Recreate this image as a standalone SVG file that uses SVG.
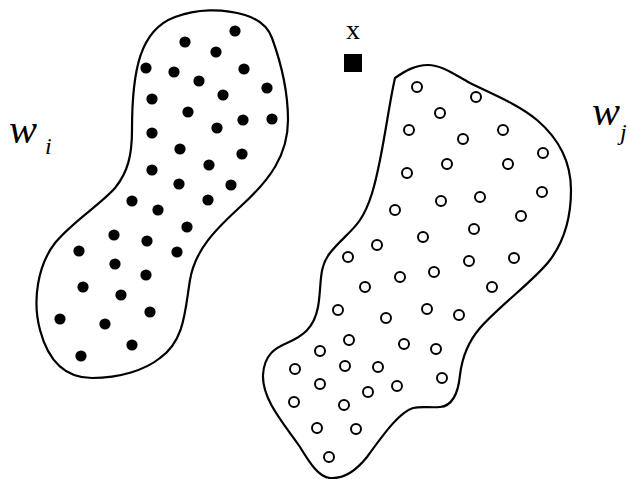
<svg xmlns="http://www.w3.org/2000/svg" width="630" height="479" viewBox="0 0 630 479">
<style>
.blob{fill:none;stroke:#000;stroke-width:2.2;stroke-linejoin:round}
.f{fill:#000}
.o{fill:none;stroke:#000;stroke-width:2}
.lbl{font-family:"Liberation Serif","Times New Roman",serif;fill:#000}
</style>
<rect width="630" height="479" fill="#fff"/>
<g id="class-wi">
<path class="blob" d="M132,130 C132,70 140,30 175,17 C196,9 222,8 245,15 C258,19 268,27 272,38 C280,60 288,90 288,120 C288,155 270,180 240,207 C215,230 195,250 190,280 C185,310 185,340 160,358 C145,370 120,378 92,378 C65,378 48,360 40,330 C32,300 38,265 55,243 C72,222 100,205 115,188 C128,172 132,155 132,130 Z"/>
<g class="f">
<circle cx="235" cy="31" r="5.6"/><circle cx="185" cy="42" r="5.6"/><circle cx="216" cy="52" r="5.6"/>
<circle cx="146" cy="68" r="5.6"/><circle cx="174" cy="72" r="5.6"/><circle cx="199" cy="81" r="5.6"/>
<circle cx="244" cy="69" r="5.6"/><circle cx="267" cy="88" r="5.6"/><circle cx="152" cy="99" r="5.6"/>
<circle cx="223" cy="95" r="5.6"/><circle cx="188" cy="112" r="5.6"/><circle cx="243" cy="120" r="5.6"/>
<circle cx="272" cy="119" r="5.6"/><circle cx="217" cy="128" r="5.6"/><circle cx="152" cy="133" r="5.6"/>
<circle cx="180" cy="149" r="5.6"/><circle cx="242" cy="154" r="5.6"/><circle cx="209" cy="165" r="5.6"/>
<circle cx="152" cy="170" r="5.6"/><circle cx="179" cy="184" r="5.6"/><circle cx="231" cy="185" r="5.6"/>
<circle cx="132" cy="201" r="5.6"/><circle cx="158" cy="210" r="5.6"/><circle cx="208" cy="200" r="5.6"/>
<circle cx="187" cy="227" r="5.6"/><circle cx="114" cy="235" r="5.6"/><circle cx="147" cy="241" r="5.6"/>
<circle cx="79" cy="251" r="5.6"/><circle cx="177" cy="252" r="5.6"/><circle cx="115" cy="264" r="5.6"/>
<circle cx="146" cy="275" r="5.6"/><circle cx="83" cy="287" r="5.6"/><circle cx="121" cy="295" r="5.6"/>
<circle cx="150" cy="312" r="5.6"/><circle cx="60" cy="319" r="5.6"/><circle cx="105" cy="324" r="5.6"/>
<circle cx="132" cy="345" r="5.6"/><circle cx="81" cy="356" r="5.6"/>
</g>
<text class="lbl" x="9" y="143" font-size="42" font-style="italic">w</text>
<text class="lbl" x="45" y="154" font-size="24" font-style="italic">i</text>
</g>
<g id="class-wj">
<path class="blob" d="M395,78 C405,71 415,65 428,65 C442,65 455,75 470,83 C492,94 518,104 537,120 C558,138 571,160 571,190 C571,215 565,240 550,260 C535,280 500,305 480,328 C468,342 462,358 460,375 C458,395 452,406 440,407 C430,408 422,406 413,408 C400,412 385,432 367,457 C355,472 342,479 330,478 C318,477 308,460 300,447 C285,425 262,400 263,375 C264,355 275,348 287,343 C303,336 314,328 318,307 C322,285 318,268 330,253 C340,240 352,232 360,220 C370,205 375,185 380,160 C386,130 390,100 395,78 Z"/>
<g class="o">
<circle cx="417" cy="87" r="5"/><circle cx="476" cy="97" r="5"/><circle cx="440" cy="113" r="5"/>
<circle cx="409" cy="130" r="5"/><circle cx="503" cy="130" r="5"/><circle cx="463" cy="139" r="5"/>
<circle cx="543" cy="153" r="5"/><circle cx="447" cy="164" r="5"/><circle cx="508" cy="164" r="5"/>
<circle cx="407" cy="173" r="5"/><circle cx="480" cy="197" r="5"/><circle cx="441" cy="201" r="5"/>
<circle cx="542" cy="192" r="5"/><circle cx="395" cy="210" r="5"/><circle cx="521" cy="216" r="5"/>
<circle cx="423" cy="237" r="5"/><circle cx="474" cy="229" r="5"/><circle cx="377" cy="245" r="5"/>
<circle cx="348" cy="257" r="5"/><circle cx="469" cy="261" r="5"/><circle cx="434" cy="272" r="5"/>
<circle cx="400" cy="277" r="5"/><circle cx="365" cy="287" r="5"/><circle cx="492" cy="287" r="5"/>
<circle cx="338" cy="310" r="5"/><circle cx="427" cy="309" r="5"/><circle cx="459" cy="315" r="5"/>
<circle cx="386" cy="318" r="5"/><circle cx="349" cy="340" r="5"/><circle cx="404" cy="344" r="5"/>
<circle cx="436" cy="349" r="5"/><circle cx="320" cy="351" r="5"/><circle cx="295" cy="369" r="5"/>
<circle cx="345" cy="366" r="5"/><circle cx="378" cy="367" r="5"/><circle cx="442" cy="378" r="5"/>
<circle cx="320" cy="384" r="5"/><circle cx="397" cy="386" r="5"/><circle cx="368" cy="392" r="5"/>
<circle cx="294" cy="402" r="5"/><circle cx="344" cy="405" r="5"/><circle cx="317" cy="428" r="5"/>
<circle cx="356" cy="429" r="5"/><circle cx="329" cy="457" r="5"/><circle cx="514" cy="258" r="5"/>
</g>
<text class="lbl" x="592" y="125" font-size="42" font-style="italic">w</text>
<text class="lbl" x="620" y="140" font-size="24" font-style="italic">j</text>
</g>
<g id="sample-x">
<text class="lbl" x="353" y="39" font-size="28" text-anchor="middle">x</text>
<rect x="344" y="54" width="18" height="18" fill="#000"/>
</g>
<g id="connectors"/>
</svg>
